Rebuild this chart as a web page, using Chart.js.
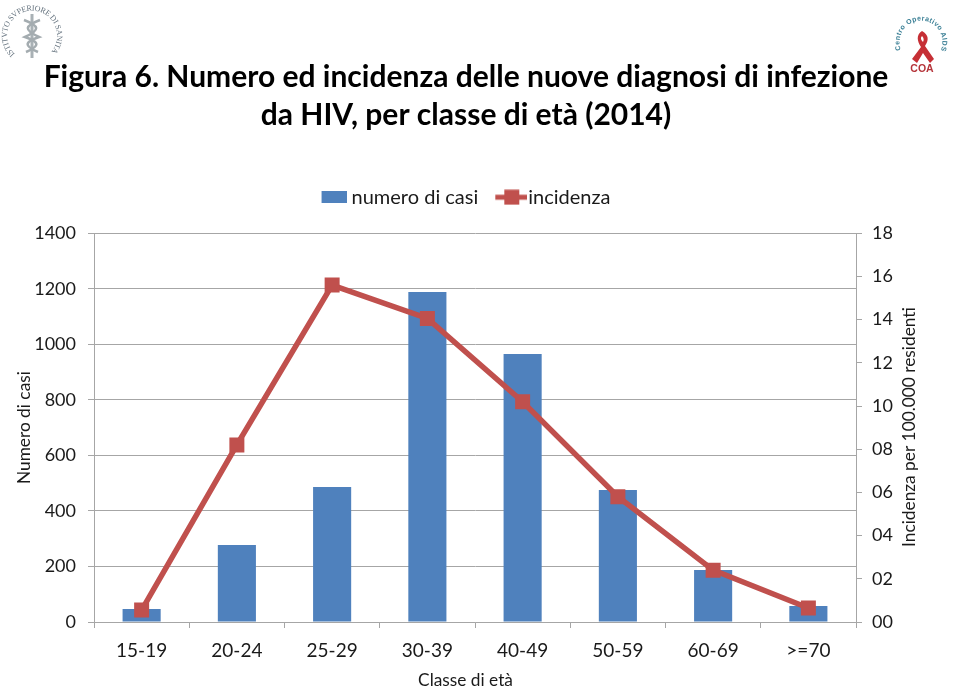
<!DOCTYPE html>
<html>
<head>
<meta charset="utf-8">
<title>Figura 6</title>
<script src="https://cdn.jsdelivr.net/npm/chart.js@4"></script>
<style>
  html, body { margin: 0; background: #fff; }
  #wrap { position: relative; width: 960px; height: 689px; overflow: hidden; }
  .logo { position: absolute; }
</style>
</head>
<body>
<div id="wrap">
  <canvas id="chart" width="960" height="689"></canvas>

  <!-- logos from the slide, redrawn roughly -->
  <svg class="logo" style="left:0;top:0" width="66" height="70" viewBox="0 0 66 70">
    <defs><path id="issArc" d="M15 54 A25 25 0 1 1 49 54"/></defs>
    <text font-family="Liberation Serif" font-size="8" fill="#64727e" textLength="116"><textPath href="#issArc">ISTITVTO SVPERIORE DI SANITA</textPath></text>
    <path d="M32 14 V58" stroke="#a9b1b5" stroke-width="3"/>
    <path d="M24 20 C40 26 40 30 25 37 C40 42 40 46 26 52 M40 20 C24 26 24 30 39 37 C24 42 24 46 38 52" stroke="#a4acb0" stroke-width="2.6" fill="none"/>
  </svg>
  <svg class="logo" style="left:892px;top:12px" width="60" height="70" viewBox="0 0 60 70">
    <defs><path id="coaArc" d="M9 38 A21.5 21.5 0 1 1 49 38"/></defs>
    <text font-family="Liberation Sans" font-weight="bold" font-size="7" fill="#3a7f95" textLength="84"><textPath href="#coaArc">Centro Operativo AIDS</textPath></text>
    <path d="M30 19 C24 23 25 29 29 35 L20 47 L25 51 L31 41 L38 51 L42 47 L33 34 C37 28 37 23 30 19 Z M30 24 C32 26 32 28 31 30 C29 28 28 26 30 24 Z" fill="#c62f35" fill-rule="evenodd"/>
    <text x="30" y="60" text-anchor="middle" font-family="Liberation Sans" font-weight="bold" font-size="10.5" fill="#b5343a">COA</text>
  </svg>
</div>

<script>
const categories = ["15-19", "20-24", "25-29", "30-39", "40-49", "50-59", "60-69", ">=70"];
const numeroCasi = [47, 277, 486, 1188, 965, 475, 187, 58];
const incidenza = [0.55, 8.2, 15.6, 14.05, 10.2, 5.8, 2.4, 0.65];
const titleLines = ["Figura 6. Numero ed incidenza delle nuove diagnosi di infezione", "da HIV, per classe di età (2014)"];

const BLUE = "#4f81bd";
const RED = "#c0504d";
const AXIS = "#a6a6a6";
const TEXT = "#1a1a1a";
const FONT = "Lato";

// legend swatches, the library centres them on the legend box
function barSwatch() {
  const c = document.createElement("canvas");
  c.width = 30; c.height = 12;
  const ctx = c.getContext("2d");
  ctx.fillStyle = BLUE;
  ctx.fillRect(5, 0, 25, 12);
  return c;
}

function lineSwatch() {
  const c = document.createElement("canvas");
  c.width = 38; c.height = 16;
  const ctx = c.getContext("2d");
  ctx.fillStyle = RED;
  ctx.fillRect(6, 5.5, 32, 5);
  ctx.fillRect(15, 0.5, 15, 15);
  return c;
}

// more room under the legend
const legendGap = {
  id: "legendGap",
  beforeInit(chart) {
    const fit = chart.legend.fit;
    chart.legend.fit = function () {
      fit.call(this);
      this.height += 16;
    };
  }
};

// these two titles sit where the scale titles can't: right one reads upwards, x one is off centre
const axisTitles = {
  id: "axisTitles",
  afterDraw(chart) {
    const ctx = chart.ctx;
    ctx.save();
    ctx.fillStyle = TEXT;
    ctx.font = "17.3px " + FONT;
    ctx.textAlign = "center";
    ctx.textBaseline = "middle";
    ctx.fillText("Classe di età", 465.5, 680);
    ctx.translate(909, 427);
    ctx.rotate(-Math.PI / 2);
    ctx.fillText("Incidenza per 100.000 residenti", 0, 0);
    ctx.restore();
  }
};

new Chart(document.getElementById("chart"), {
  type: "bar",
  data: {
    labels: categories,
    datasets: [
      {
        type: "line",
        label: "incidenza",
        data: incidenza,
        yAxisID: "y2",
        borderColor: RED,
        backgroundColor: RED,
        borderWidth: 5.5,
        tension: 0,
        pointStyle: "rect",
        pointRadius: 10.6,
        pointBackgroundColor: RED,
        pointBorderWidth: 0,
        order: 0
      },
      {
        label: "numero di casi",
        data: numeroCasi,
        yAxisID: "y",
        backgroundColor: BLUE,
        barPercentage: 0.4,
        categoryPercentage: 1,
        order: 1
      }
    ]
  },
  plugins: [legendGap, axisTitles],
  options: {
    responsive: false,
    animation: false,
    layout: { padding: { top: 58, right: 28, left: 0, bottom: 0 } },
    plugins: {
      title: {
        display: true,
        text: titleLines,
        color: "#000",
        font: { family: FONT, size: 30, weight: "bold", lineHeight: 1.27 },
        padding: { top: 0, bottom: 33 }
      },
      legend: {
        position: "top",
        labels: {
          usePointStyle: true,
          pointStyleWidth: 20,
          color: TEXT,
          font: { family: FONT, size: 20 },
          padding: 20,
          generateLabels: () => [
            { text: "numero di casi", pointStyle: barSwatch(), fontColor: TEXT, lineWidth: 0, strokeStyle: "transparent", fillStyle: BLUE },
            { text: "incidenza", pointStyle: lineSwatch(), fontColor: TEXT, lineWidth: 0, strokeStyle: "transparent", fillStyle: RED }
          ]
        }
      },
      tooltip: { enabled: false }
    },
    scales: {
      x: {
        offset: true,
        grid: { offset: true, drawOnChartArea: false, color: AXIS, tickLength: 6 },
        border: { color: AXIS },
        ticks: { color: TEXT, font: { family: FONT, size: 19 }, padding: 11, maxRotation: 0 },
        afterFit: (s) => { s.height = 67; }
      },
      y: {
        position: "left",
        min: 0,
        max: 1400,
        ticks: { stepSize: 200, color: TEXT, font: { family: FONT, size: 18 }, padding: 12, callback: (v) => String(v) },
        grid: { color: AXIS, tickLength: 6 },
        border: { color: AXIS },
        title: { display: true, text: "Numero di casi", color: TEXT, font: { family: FONT, size: 17.3 }, padding: { top: 14, bottom: 0 } },
        afterFit: (s) => { s.width = 94; }
      },
      y2: {
        position: "right",
        min: 0,
        max: 18,
        ticks: {
          stepSize: 2,
          color: TEXT,
          font: { family: FONT, size: 18 },
          padding: 10,
          callback: (v) => String(v).padStart(2, "0")
        },
        grid: { drawOnChartArea: false, color: AXIS, tickLength: 6 },
        border: { color: AXIS },
        afterFit: (s) => { s.width = 76; }
      }
    }
  }
});
</script>
</body>
</html>
